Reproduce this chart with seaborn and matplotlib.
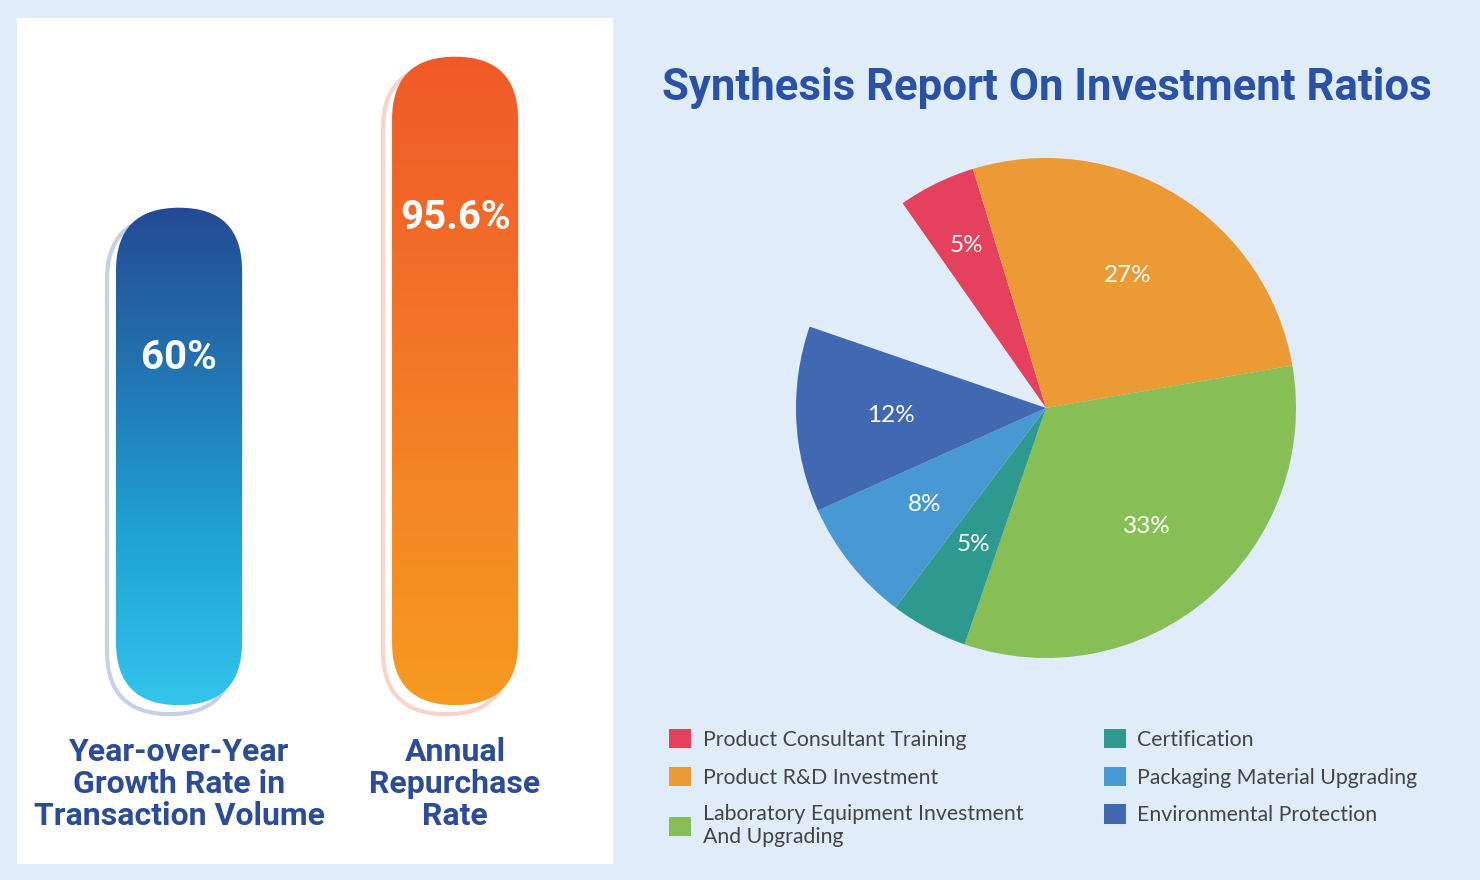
import numpy as np
import pandas as pd
import matplotlib
matplotlib.use("Agg")
import matplotlib.pyplot as plt
import matplotlib.transforms as mtransforms
from matplotlib.patches import FancyBboxPatch, Rectangle
from matplotlib.colors import LinearSegmentedColormap
import seaborn as sns

# Data
bar_labels = ['Year-over-Year\nGrowth Rate in\nTransaction Volume', 'Annual\nRepurchase\nRate']
bar_values = [60, 95.6]
bar_text = ['60%', '95.6%']

pie_labels = ['Product Consultant Training', 'Product R&D Investment',
              'Laboratory Equipment Investment\nAnd Upgrading', 'Certification',
              'Packaging Material Upgrading', 'Environmental Protection']
pie_values = [5, 27, 33, 5, 8, 12]
pie_colors = ['#E5405D', '#EC9A35', '#87BF56', '#2E9A8F', '#4899D3', '#4169B1']

title = 'Synthesis Report On Investment Ratios'

# Style
BG = '#E0ECF8'
NAVY = '#2B4C9B'
BAR_BASE = -57.3          # where the pill bottoms sit (axis units)
bar_cmaps = [
    LinearSegmentedColormap.from_list('b', ['#33C4EB', '#1FA3D5', '#2275B2', '#244A93']),
    LinearSegmentedColormap.from_list('o', ['#F69A20', '#F48624', '#F26E28', '#F05A29']),
]
ring_colors = ['#C8D0E5', '#FAD3CA']

sns.set_style('white')
plt.rcParams['font.family'] = ['Roboto', 'DejaVu Sans']

W, H = 1480, 880
fig = plt.figure(figsize=(W / 100, H / 100), dpi=100)
fig.patch.set_facecolor(BG)


def fbox(x0, y0, x1, y1):
    # pixel box (top-left origin) -> figure fraction rect
    return [x0 / W, 1 - y1 / H, (x1 - x0) / W, (y1 - y0) / H]


# white card behind the bars
fig.patches.append(Rectangle((17 / W, 1 - 864 / H), 596 / W, 846 / H, transform=fig.transFigure,
                             facecolor='white', edgecolor='none', zorder=-1))

# ---- left: pill bars ----
ax = fig.add_axes(fbox(17, 30, 613, 720))
ax.patch.set_alpha(0)
df_bar = pd.DataFrame({'metric': bar_labels, 'value': bar_values})
sns.barplot(data=df_bar, x='metric', y='value', width=0.457, color='#cccccc', ax=ax)

xlim, ylim = (-0.587, 1.572), (-60.8, 101.9)
ax.set_xlim(*xlim)
ax.set_ylim(*ylim)
pos = ax.get_position()
ux = (xlim[1] - xlim[0]) / (pos.width * W)
uy = (ylim[1] - ylim[0]) / (pos.height * H)
asp = uy / ux

shift = mtransforms.ScaledTranslation(-9 / 100, -9 / 100, fig.dpi_scale_trans)
grad = np.linspace(0, 1, 256).reshape(-1, 1)
label_drop = [-108, -116]
rects = list(ax.patches)
for i, rect in enumerate(rects):
    rect.set_visible(False)
    x0, w, top = rect.get_x(), rect.get_width(), rect.get_height()
    style = f'round,pad=0,rounding_size={w / 2}'
    ring = FancyBboxPatch((x0, BAR_BASE), w, top - BAR_BASE, boxstyle=style, mutation_aspect=asp,
                          facecolor='white', edgecolor=ring_colors[i], lw=3, zorder=1)
    ax.add_patch(ring)
    ring.set_transform(ax.transData + shift)
    pill = FancyBboxPatch((x0, BAR_BASE), w, top - BAR_BASE, boxstyle=style, mutation_aspect=asp,
                          facecolor='none', edgecolor='none', zorder=2)
    ax.add_patch(pill)
    im = ax.imshow(grad, extent=(x0, x0 + w, BAR_BASE, top), origin='lower', cmap=bar_cmaps[i],
                   aspect='auto', zorder=2)
    im.set_clip_path(pill)
    ax.annotate(bar_text[i], xy=(x0 + w / 2, top), xytext=(0, label_drop[i]), textcoords='offset points',
                ha='center', va='center', color='white', fontsize=29, fontweight='bold', zorder=3)

ax.set_xlim(*xlim)
ax.set_ylim(*ylim)
ax.set_yticks([])
ax.set_xlabel('')
ax.set_ylabel('')
sns.despine(ax=ax, left=True, bottom=True)
ax.tick_params(axis='x', length=0, pad=12, labelsize=23, labelcolor=NAVY)
for t in ax.get_xticklabels():
    t.set_fontweight('bold')
    t.set_linespacing(1.1)

# ---- right: pie ----
fig.text(1047 / W, 1 - 88 / H, title, ha='center', va='center', fontsize=31.5,
         fontweight='bold', color='#2952A6')

axp = fig.add_axes(fbox(796, 158, 1296, 658))
wedges, texts, autotexts = axp.pie([v / 100 for v in pie_values], colors=pie_colors,
                                   startangle=125, counterclock=False, normalize=False,
                                   autopct='%.0f%%', pctdistance=0.62,
                                   textprops=dict(color='white', fontsize=17.5, family=['Lato', 'DejaVu Sans']),
                                   wedgeprops=dict(linewidth=0))
# small red slice label sits a bit further out
px, py = autotexts[0].get_position()
autotexts[0].set_position((px * 1.17, py * 1.17))
axp.set_xlim(-1, 1)
axp.set_ylim(-1, 1)
axp.set_aspect('equal')

leg = axp.legend(wedges, pie_labels, loc='upper left', bbox_to_anchor=(669 / W, 1 - 729 / H),
                 bbox_transform=fig.transFigure, ncol=2, frameon=False,
                 prop=dict(family=['Lato', 'DejaVu Sans'], size=15.3),
                 handlelength=1.03, handleheight=1.03, handletextpad=0.55, columnspacing=3.8,
                 labelspacing=0.78, borderpad=0, borderaxespad=0, labelcolor='#444444')

fig.savefig('out.png', dpi=100, facecolor=BG)
